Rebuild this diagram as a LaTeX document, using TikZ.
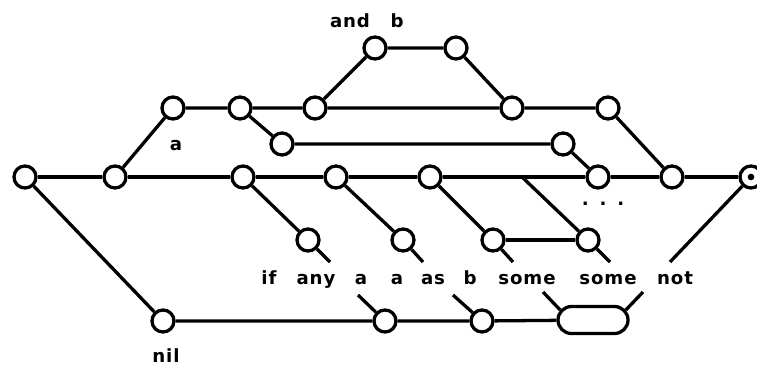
\documentclass[tikz,border=0pt]{standalone}
\usepackage{fontspec}
\newfontfamily\lblfont[LetterSpace=5]{DejaVu Sans}
\newfontfamily\dotfont[LetterSpace=60]{DejaVu Sans}
\usetikzlibrary{shapes.misc}

\begin{document}
\begin{tikzpicture}[
  x=0.03cm, y=-0.03cm,
  st/.style={draw, circle, line width=2.8pt, fill=white,
             minimum size=0.66cm, inner sep=0pt},
  pill/.style={draw, rounded rectangle, line width=2.8pt, fill=white,
               minimum width=2.1cm, minimum height=0.81cm, inner sep=0pt},
  ln/.style={line width=2.8pt},
  lbl/.style={font=\lblfont\bfseries\fontsize{15.5}{17}\selectfont,
              anchor=base, inner sep=0pt}
]
\useasboundingbox (0,0) rectangle (757,367);

%% ── nodes ───────────────────────────────────────────────────────────────
% main row
\node[st] (start) at (25,177)  {};
\node[st] (fork)  at (115,177) {};
\node[st] (row1)  at (243,177) {};
\node[st] (row2)  at (336,177) {};
\node[st] (row3)  at (430,177) {};
\node[st] (row4)  at (598,177) {};
\node[st] (row5)  at (672,177) {};
\node[st] (fin)   at (751,177) {};
\coordinate (br) at (522,177);

% upper branch
\node[st] (up1)  at (173,108) {};
\node[st] (up2)  at (240,108) {};
\node[st] (up3)  at (282,144) {};
\node[st] (up4)  at (315,108) {};
\node[st] (hi1)  at (375,48)  {};
\node[st] (hi2)  at (456,48)  {};
\node[st] (up5)  at (512,108) {};
\node[st] (up6)  at (608,108) {};
\node[st] (up7)  at (563,144) {};

% drops below main row
\node[st] (dn1)  at (308,240) {};
\node[st] (dn2)  at (403,240) {};
\node[st] (dn3)  at (493,240) {};
\node[st] (dn4)  at (588,240) {};

% bottom row
\node[st]   (low1) at (163,321) {};
\node[st]   (low2) at (385,321) {};
\node[st]   (low3) at (482,321) {};
\node[pill] (pill) at (593,320) {};

% loose ends
\coordinate (t1) at (330,262);
\coordinate (t2) at (423,262);
\coordinate (t3) at (513,262);
\coordinate (t4) at (610,262);
\coordinate (t5) at (670,262);
\coordinate (t6) at (358,295);
\coordinate (t7) at (453,295);
\coordinate (t8) at (543,292);
\coordinate (t9) at (643,292);

% labels
\node[lbl] (lAnd)   at (350,28)  {and};
\node[lbl] (lB)     at (397,28)  {b};
\node[lbl] (lA)     at (176,150) {a};
\node[lbl, font=\dotfont\bfseries\fontsize{15.5}{17}\selectfont]
           (lDots)  at (603,205) {...};
\node[lbl] (lIf)    at (269,284) {if};
\node[lbl] (lAny)   at (316,284) {any};
\node[lbl] (lA2)    at (361,284) {a};
\node[lbl] (lA3)    at (397,284) {a};
\node[lbl] (lAs)    at (433,284) {as};
\node[lbl] (lB2)    at (470,284) {b};
\node[lbl] (lSome)  at (527,284) {some};
\node[lbl] (lSome2) at (608,284) {some};
\node[lbl] (lNot)   at (675,284) {not};
\node[lbl] (lNil)   at (166,362) {nil};

%% ── edges ───────────────────────────────────────────────────────────────
% main row
\draw[ln] (start) -- (fork) -- (row1) -- (row2) -- (row3) -- (row4)
          -- (row5) -- (fin);

% upper branch
\draw[ln] (fork) -- (up1) -- (up2) -- (up4) -- (up5) -- (up6);
\draw[ln] (up2) -- (up3) -- (up7) -- (row4);
\draw[ln] (up4) -- (hi1) -- (hi2) -- (up5);
\draw[ln] (up6) -- (row5);

% drops
\draw[ln] (row1) -- (dn1) -- (t1);
\draw[ln] (row2) -- (dn2) -- (t2);
\draw[ln] (row3) -- (dn3) -- (t3);
\draw[ln] (br)   -- (dn4) -- (t4);
\draw[ln] (dn3)  -- (dn4);
\draw[ln] (fin)  -- (t5);

% bottom row
\draw[ln] (start) -- (low1) -- (low2) -- (low3) -- (pill);
\draw[ln] (t6) -- (low2);
\draw[ln] (t7) -- (low3);
\draw[ln] (t8) -- (pill.163);
\draw[ln] (t9) -- (pill.17);

\fill (fin.center) circle[radius=0.1cm];

\end{tikzpicture}
\end{document}
